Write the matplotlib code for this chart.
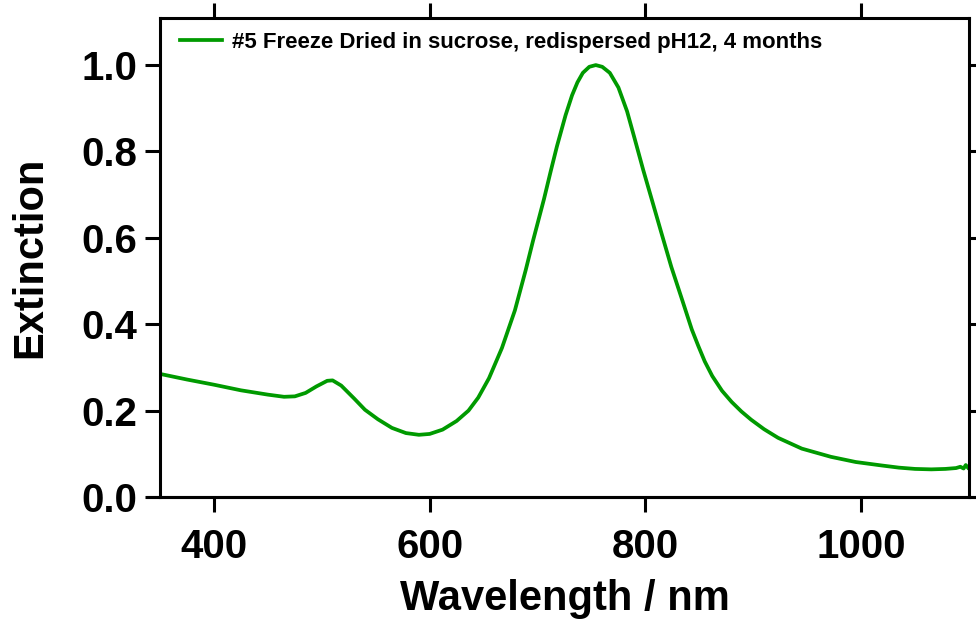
import matplotlib
matplotlib.use("Agg")
import matplotlib.pyplot as plt

plt.rcParams['font.family'] = ['Liberation Sans', 'DejaVu Sans']
plt.rcParams['font.weight'] = 'bold'

# spectrum
wavelength = [350, 375, 400, 425, 450, 465, 475, 485, 495, 505, 510, 518, 530, 540,
              552, 565, 578, 590, 600, 612, 625, 636, 645, 655, 667, 679, 689, 696,
              706, 712, 718, 726, 732, 737, 742, 748, 754, 760, 767, 775, 783, 790,
              798, 806, 815, 824, 834, 843, 849, 855, 862, 871, 880, 889, 898, 910,
              923, 945, 972, 995, 1019, 1035, 1050, 1065, 1078, 1088, 1092, 1095,
              1097, 1099]
extinction = [0.285, 0.272, 0.260, 0.247, 0.237, 0.232, 0.233, 0.241, 0.256, 0.269,
              0.270, 0.258, 0.228, 0.202, 0.180, 0.160, 0.148, 0.144, 0.146, 0.156,
              0.176, 0.200, 0.230, 0.275, 0.345, 0.432, 0.525, 0.595, 0.690, 0.752,
              0.812, 0.884, 0.930, 0.960, 0.982, 0.996, 1.000, 0.996, 0.982, 0.948,
              0.893, 0.830, 0.757, 0.688, 0.610, 0.533, 0.457, 0.388, 0.350, 0.314,
              0.280, 0.246, 0.220, 0.198, 0.179, 0.157, 0.137, 0.112, 0.093, 0.081,
              0.073, 0.068, 0.065, 0.064, 0.065, 0.067, 0.070, 0.066, 0.074, 0.068]
label = "#5 Freeze Dried in sucrose, redispersed pH12, 4 months"
xticks = [400, 600, 800, 1000]
yticks = [0.0, 0.2, 0.4, 0.6, 0.8, 1.0]

fig = plt.figure(figsize=(9.76, 6.19), dpi=100)
ax = fig.add_axes([160/976, 122/619, 809/976, 479/619])

ax.plot(wavelength, extinction, color='#009a00', lw=2.7, label=label)

ax.set_xlim(350, 1100)
ax.set_ylim(0, 1.109)
ax.set_xticks(xticks)
ax.set_yticks(yticks)
ax.set_yticklabels(["%.1f" % v for v in yticks])

for s in ax.spines.values():
    s.set_linewidth(2.2)
ax.tick_params(direction='out', length=10.5, width=2.2, top=True, right=True,
               labelsize=29, pad=6)
ax.tick_params(axis='x', pad=12)
for t in ax.get_xticklabels() + ax.get_yticklabels():
    t.set_fontweight('bold')

# bottom axis line runs a bit past the frame, Igor style
ax.plot([-0.017, 1.01], [0, 0], transform=ax.transAxes, color='black',
        lw=2.2, clip_on=False, solid_capstyle='butt')

ax.set_xlabel("Wavelength / nm", fontsize=30, fontweight='bold', labelpad=9)
ax.set_ylabel("Extinction", fontsize=30, fontweight='bold', labelpad=22)

ax.legend(loc='upper left', bbox_to_anchor=(0.0, 1.012), frameon=False,
          prop={'size': 16, 'weight': 'bold'}, handlelength=1.9,
          handletextpad=0.45, borderaxespad=0.5)

fig.savefig("out.png", dpi=100)
